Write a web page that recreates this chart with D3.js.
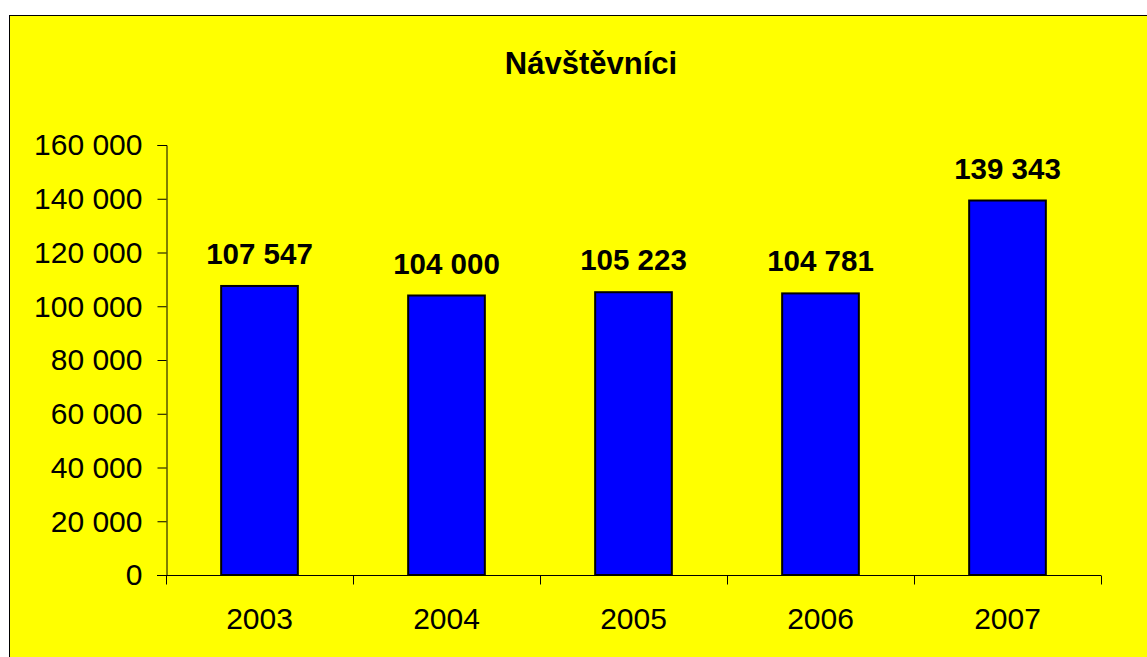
<!DOCTYPE html>
<html>
<head>
<meta charset="utf-8">
<script src="https://cdn.jsdelivr.net/npm/d3@7"></script>
<style>
  html, body { margin: 0; padding: 0; background: #ffffff; }
  svg { display: block; }
  text { font-family: "Liberation Sans", Arial, sans-serif; fill: #000; }
</style>
</head>
<body>
<svg id="chart" width="1147" height="657"></svg>
<script>
// Visitors per year
const years = ["2003", "2004", "2005", "2006", "2007"];
const visitors = [107547, 104000, 105223, 104781, 139343];
const yTicks = [0, 20000, 40000, 60000, 80000, 100000, 120000, 140000, 160000];
const chartTitle = "Návštěvníci";

const svg = d3.select("#chart");
const W = 1147, H = 657;

// chart frame (runs off the right and bottom edges)
svg.append("rect")
  .attr("x", 9.5).attr("y", 15.5)
  .attr("width", W + 20).attr("height", H + 20)
  .attr("fill", "#ffff00")
  .attr("stroke", "#000").attr("stroke-width", 1);

const plot = { left: 166, right: 1101, top: 145, bottom: 575 };

const x = d3.scaleBand()
  .domain(years)
  .range([plot.left, plot.right])
  .paddingInner(0.59)
  .paddingOuter(0.295);

const y = d3.scaleLinear()
  .domain([0, 160000])
  .range([plot.bottom, plot.top]);

const fmt = v => d3.format(",")(v).replace(/,/g, " ");

// title
svg.append("text")
  .attr("x", 591).attr("y", 74)
  .attr("text-anchor", "middle")
  .attr("font-size", 31).attr("font-weight", "bold")
  .text(chartTitle);

// y axis
const yAxis = d3.axisLeft(y)
  .tickValues(yTicks)
  .tickFormat(fmt)
  .tickSize(9)
  .tickPadding(15);
const gy = svg.append("g")
  .attr("transform", `translate(${plot.left + 0.5},0)`)
  .call(yAxis);
gy.select(".domain").attr("stroke", "#000");
gy.selectAll(".tick line").attr("stroke", "#000");
gy.selectAll(".tick text")
  .attr("font-size", 30)
  .attr("font-family", "'Liberation Sans', Arial, sans-serif")
  .attr("fill", "#000")
  .attr("dy", "0.33em");

// x axis with ticks between categories
const xBoundary = d3.scaleLinear().domain([0, years.length]).range([plot.left, plot.right]);
const gx = svg.append("g").attr("transform", `translate(0,${plot.bottom + 0.5})`);
gx.append("line")
  .attr("x1", plot.left - 9).attr("x2", plot.right)
  .attr("stroke", "#000");
gx.selectAll("line.tk")
  .data(d3.range(years.length + 1))
  .join("line")
  .attr("class", "tk")
  .attr("x1", i => Math.round(xBoundary(i)) + 0.5)
  .attr("x2", i => Math.round(xBoundary(i)) + 0.5)
  .attr("y1", 0).attr("y2", 9)
  .attr("stroke", "#000");
gx.selectAll("text")
  .data(years)
  .join("text")
  .attr("x", d => x(d) + x.bandwidth() / 2)
  .attr("y", 53)
  .attr("text-anchor", "middle")
  .attr("font-size", 30)
  .text(d => d);

// bars
const data = years.map((yr, i) => ({ year: yr, value: visitors[i] }));
svg.append("g")
  .selectAll("rect")
  .data(data)
  .join("rect")
  .attr("x", d => x(d.year))
  .attr("y", d => y(d.value))
  .attr("width", x.bandwidth())
  .attr("height", d => y(0) - y(d.value))
  .attr("fill", "#0000ff")
  .attr("stroke", "#000")
  .attr("stroke-width", 2);

// value labels
svg.append("g")
  .selectAll("text")
  .data(data)
  .join("text")
  .attr("x", d => x(d.year) + x.bandwidth() / 2)
  .attr("y", d => y(d.value) - 22)
  .attr("text-anchor", "middle")
  .attr("font-size", 29.5)
  .attr("font-weight", "bold")
  .text(d => fmt(d.value));
</script>
</body>
</html>
